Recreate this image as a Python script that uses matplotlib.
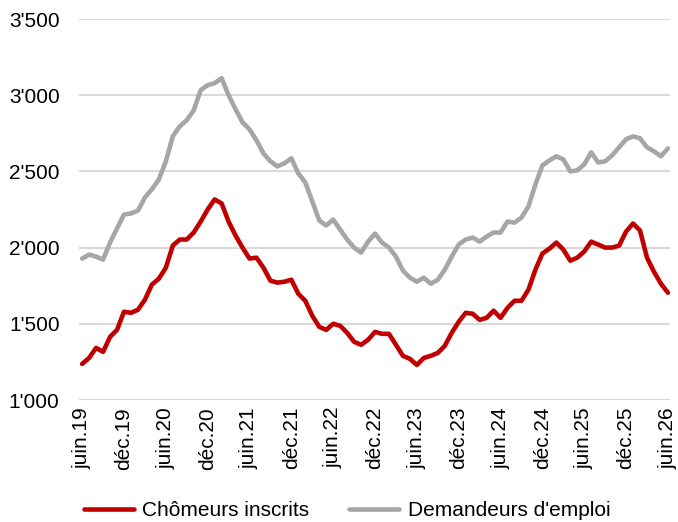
import matplotlib
matplotlib.use("Agg")
import matplotlib.pyplot as plt
import numpy as np

plt.rcParams['font.family'] = ['Liberation Sans', 'DejaVu Sans']

chomeurs = [1237, 1276, 1342, 1316, 1414, 1460, 1579, 1572, 1592, 1658, 1757, 1796,
            1868, 2013, 2053, 2053, 2099, 2171, 2250, 2316, 2290, 2171, 2079, 2000,
            1928, 1934, 1868, 1783, 1770, 1776, 1789, 1697, 1651, 1553, 1480, 1460,
            1500, 1487, 1441, 1382, 1362, 1395, 1447, 1434, 1434, 1362, 1290, 1270,
            1230, 1276, 1290, 1309, 1355, 1441, 1513, 1572, 1566, 1526, 1539, 1586,
            1539, 1605, 1651, 1651, 1724, 1855, 1961, 1993, 2033, 1987, 1914, 1934,
            1974, 2039, 2020, 2000, 2000, 2013, 2105, 2158, 2112, 1934, 1842, 1763,
            1704]
demandeurs = [1928, 1954, 1941, 1921, 2033, 2125, 2217, 2224, 2243, 2329, 2382, 2447,
              2566, 2730, 2796, 2836, 2901, 3033, 3066, 3079, 3112, 3000, 2908, 2822,
              2776, 2704, 2618, 2566, 2533, 2553, 2586, 2487, 2428, 2303, 2178, 2145,
              2184, 2118, 2053, 2000, 1967, 2039, 2092, 2033, 2000, 1941, 1849, 1803,
              1776, 1803, 1763, 1789, 1855, 1941, 2020, 2053, 2066, 2039, 2072, 2099,
              2099, 2171, 2164, 2197, 2270, 2414, 2539, 2572, 2599, 2579, 2500, 2507,
              2546, 2625, 2559, 2566, 2605, 2658, 2711, 2730, 2717, 2658, 2632, 2599,
              2651]
tick_labels = ['juin.19', 'déc.19', 'juin.20', 'déc.20', 'juin.21', 'déc.21', 'juin.22',
               'déc.22', 'juin.23', 'déc.23', 'juin.24', 'déc.24', 'juin.25', 'déc.25',
               'juin.26']
y_ticks = [1000, 1500, 2000, 2500, 3000, 3500]
y_labels = ["1'000", "1'500", "2'000", "2'500", "3'000", "3'500"]

fig = plt.figure(figsize=(6.78, 5.22), dpi=100)
ax = fig.add_axes([79/678, 1-400/522, (670-79)/678, (400-19)/522])

x = np.arange(len(chomeurs))
ax.plot(x, chomeurs, color='#C00000', lw=3.3, label='Chômeurs inscrits',
        solid_joinstyle='round', solid_capstyle='round', zorder=3)
ax.plot(x, demandeurs, color='#A6A6A6', lw=3.3, label="Demandeurs d'emploi",
        solid_joinstyle='round', solid_capstyle='round', zorder=2)

ax.set_ylim(1000, 3500)
ax.set_xlim(-0.45, 84.3)
ax.set_yticks(y_ticks)
ax.set_yticklabels(y_labels)
ax.set_xticks(np.arange(0, 85, 6))
ax.set_xticklabels(tick_labels, rotation=90)
ax.tick_params(axis='both', length=0, labelsize=15, colors='black')
ax.tick_params(axis='y', pad=14)
ax.tick_params(axis='x', pad=5)
ax.grid(axis='y', color='#D9D9D9', lw=1.5, zorder=0)
ax.set_axisbelow(True)
for s in ax.spines.values():
    s.set_visible(False)

fig.legend(loc='center', bbox_to_anchor=(0.512, 0.022), ncol=2, frameon=False,
           fontsize=15, handlelength=2.4, handletextpad=0.4, columnspacing=1.9)

fig.savefig('out.png', dpi=100)
